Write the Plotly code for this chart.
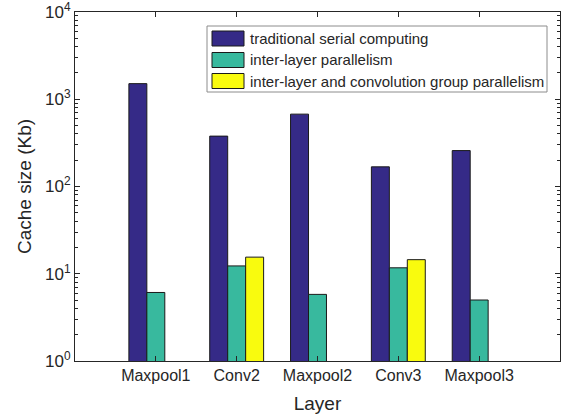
import plotly.graph_objects as go

# Layers on the x axis
layers = ["Maxpool1", "Conv2", "Maxpool2", "Conv3", "Maxpool3"]
positions = [1, 2, 3, 4, 5]

# Cache size (Kb) per scheme; None where a scheme does not apply
serial_kb = [1510, 378, 675, 168, 258]
inter_layer_kb = [6.1, 12.3, 5.8, 11.7, 5.0]
group_parallel_kb = [None, 15.5, None, 14.5, None]

series_names = [
    "traditional serial computing",
    "inter-layer parallelism",
    "inter-layer and convolution group parallelism",
]
series_values = [serial_kb, inter_layer_kb, group_parallel_kb]
series_colors = ["#352a87", "#38b99e", "#f9fb0e"]

ytick_vals = [1, 10, 100, 1000, 10000]
ytick_text = ["10<sup>%d</sup>" % i for i in range(5)]

FONT = "Liberation Sans, Arial, Helvetica, sans-serif"

fig = go.Figure()
for name, vals, col in zip(series_names, series_values, series_colors):
    fig.add_trace(go.Bar(
        x=positions, y=vals, name=name,
        marker=dict(color=col, line=dict(color="#1a1a1a", width=1)),
        showlegend=False,
    ))

fig.update_layout(
    width=567, height=418,
    margin=dict(l=75, r=7, t=12, b=57),
    paper_bgcolor="white", plot_bgcolor="white",
    barmode="group", bargap=1/3, bargroupgap=0,
    font=dict(family=FONT, color="#262626", size=16),
    xaxis=dict(
        range=[0, 6], tickmode="array", tickvals=positions, ticktext=layers,
        ticks="inside", ticklen=5, tickcolor="#262626",
        showline=True, linecolor="#262626", linewidth=1, mirror="allticks",
        showgrid=False, zeroline=False, automargin=False,
        tickfont=dict(size=16), ticklabeloverflow="allow",
        title=dict(text="Layer", font=dict(size=19), standoff=13),
    ),
    yaxis=dict(
        type="log", range=[0, 4], tickmode="array",
        tickvals=ytick_vals, ticktext=ytick_text,
        ticks="inside", ticklen=5, tickcolor="#262626",
        minor=dict(ticks="inside", ticklen=3, dtick="D1", tickcolor="#262626", showgrid=False),
        showline=True, linecolor="#262626", linewidth=1, mirror="allticks",
        showgrid=False, zeroline=False, automargin=False,
        tickfont=dict(size=17), ticklabeloverflow="allow",
        title=dict(text="Cache size (Kb)", font=dict(size=19), standoff=8),
    ),
)

# Legend box drawn in the upper right of the plot area
PW, PH, L, B_PIX = 485.0, 349.0, 75.0, 361.0


def px_x(p):
    return (p - L) / PW


def px_y(p):
    return (B_PIX - p) / PH


fig.add_shape(type="rect", xref="paper", yref="paper",
              x0=px_x(207), x1=px_x(547), y0=px_y(92), y1=px_y(26),
              line=dict(color="#8c8c8c", width=1), fillcolor="white", layer="above")

row_centers = [38.5, 60, 81]
for name, col, rc in zip(series_names, series_colors, row_centers):
    fig.add_shape(type="rect", xref="paper", yref="paper",
                  x0=px_x(212), x1=px_x(244), y0=px_y(rc + 7.5), y1=px_y(rc - 7.5),
                  line=dict(color="#1a1a1a", width=1), fillcolor=col, layer="above")
    fig.add_annotation(xref="paper", yref="paper", x=px_x(248), y=px_y(rc),
                       xanchor="left", yanchor="middle", showarrow=False,
                       text=name, font=dict(size=15, family=FONT, color="#262626"))

fig.write_html("out.html")
